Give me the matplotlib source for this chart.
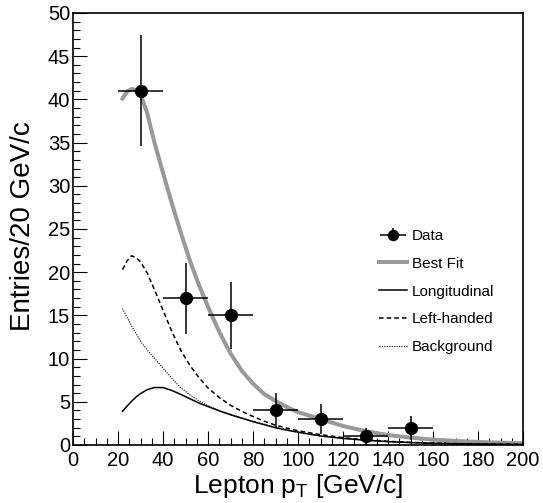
import matplotlib
matplotlib.use("Agg")
from matplotlib import pyplot as plt
from matplotlib.ticker import MultipleLocator
from matplotlib.legend_handler import HandlerErrorbar

plt.rcParams['font.family'] = ['Liberation Sans', 'DejaVu Sans']
plt.rcParams['mathtext.fontset'] = 'custom'
plt.rcParams['mathtext.rm'] = 'Liberation Sans'
plt.rcParams['mathtext.it'] = 'Liberation Sans'

# data points (lepton pT bins, 20 GeV/c wide)
data_x = [30, 50, 70, 90, 110, 130, 150]
data_y = [41, 17, 15, 4, 3, 1, 2]
data_xerr = [10, 10, 10, 10, 10, 10, 10]
data_yerr = [6.4, 4.1, 3.9, 2.0, 1.7, 1.0, 1.4]

# curves
curve_x = [22, 24, 26, 28, 30, 33, 36, 40, 44, 48, 52, 56, 60, 65, 70, 75, 80,
           85, 90, 95, 100, 110, 120, 130, 140, 150, 160, 170, 180, 190, 200]
best_fit = [40.1, 40.9, 41.2, 41.1, 40.6, 38.4, 35.2, 31.5, 27.9, 24.5, 21.3,
            18.5, 16.0, 13.1, 10.6, 8.6, 7.1, 5.9, 5.1, 4.4, 3.8, 3.0, 2.2,
            1.6, 1.15, 0.85, 0.62, 0.47, 0.35, 0.27, 0.2]
longitudinal = [3.9, 4.5, 5.05, 5.55, 5.95, 6.4, 6.65, 6.65, 6.3, 5.85, 5.35,
                4.85, 4.45, 3.95, 3.5, 3.1, 2.7, 2.35, 2.0, 1.72, 1.48, 1.04,
                0.76, 0.55, 0.39, 0.28, 0.2, 0.15, 0.11, 0.08, 0.06]
left_handed = [20.3, 21.3, 21.9, 21.7, 21.2, 19.9, 18.1, 15.6, 13.1, 10.9, 9.2,
               7.8, 6.6, 5.5, 4.6, 3.9, 3.3, 2.75, 2.3, 1.95, 1.65, 1.2, 0.85,
               0.6, 0.43, 0.3, 0.22, 0.16, 0.12, 0.09, 0.07]
background = [15.8, 14.8, 13.8, 12.9, 12.0, 11.0, 10.1, 8.9, 7.7, 6.6, 5.8,
              5.1, 4.55, 4.0, 3.55, 3.15, 2.75, 2.4, 2.05, 1.76, 1.5, 1.06,
              0.77, 0.56, 0.4, 0.29, 0.21, 0.15, 0.11, 0.08, 0.06]

fig = plt.figure(figsize=(5.43, 5.03), dpi=100)
ax = fig.add_axes([73 / 543, 58 / 503, 450 / 543, 432 / 503])

ax.plot(curve_x, best_fit, color='#999999', lw=2.9, label='Best Fit', zorder=2)
ax.plot(curve_x, longitudinal, color='black', lw=1.1, label='Longitudinal', zorder=3)
ax.plot(curve_x, left_handed, color='black', lw=1.1, ls=(0, (3, 2)), label='Left-handed', zorder=3)
ax.plot(curve_x, background, color='black', lw=0.8, ls=(0, (1, 1.2)), label='Background', zorder=3)
eb = ax.errorbar(data_x, data_y, xerr=data_xerr, yerr=data_yerr, fmt='o', color='black',
                 ms=8.5, elinewidth=1.1, capsize=0, label='Data', zorder=5)

ax.set_xlim(0, 200)
ax.set_ylim(0, 50)
ax.xaxis.set_major_locator(MultipleLocator(20))
ax.xaxis.set_minor_locator(MultipleLocator(5))
ax.yaxis.set_major_locator(MultipleLocator(5))
ax.yaxis.set_minor_locator(MultipleLocator(1))
ax.tick_params(which='both', direction='in', top=False, right=False, width=0.8)
ax.tick_params(which='major', length=10)
ax.tick_params(which='minor', length=5)
ax.tick_params(axis='x', labelsize=14.5, pad=4)
ax.tick_params(axis='y', labelsize=14.5, pad=2)
for s in ax.spines.values():
    s.set_linewidth(1.2)

ax.set_xlabel(r'Lepton p$_{\mathrm{T}}$ [GeV/c]', fontsize=19, labelpad=2)
fig.text(23 / 543, 1 - 226 / 503, 'Entries/20 GeV/c', rotation=90, fontsize=20,
         ha='center', va='center')

handles, labels = ax.get_legend_handles_labels()
order = ['Data', 'Best Fit', 'Longitudinal', 'Left-handed', 'Background']
hmap = dict(zip(labels, handles))
ax.legend([hmap[k] for k in order], order, loc='upper left', bbox_to_anchor=(0.667, 0.514),
          frameon=False, fontsize=11, handlelength=1.8, handletextpad=0.35,
          labelspacing=0.9, borderaxespad=0, markerscale=0.85,
          handler_map={eb: HandlerErrorbar(xerr_size=0.88, yerr_size=0.43)})

fig.savefig('out.png', dpi=100)
